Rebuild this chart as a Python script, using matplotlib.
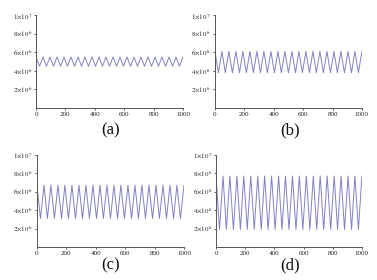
from matplotlib import pyplot as plt

plt.rcParams['mathtext.fontset'] = 'stix'
plt.rcParams['font.family'] = 'Liberation Serif'

# turning points of the oscillation (time steps)
t = [0, 24, 48, 71, 95, 119, 143, 167, 190, 214, 238, 262, 286, 310, 333,
     357, 381, 405, 429, 452, 476, 500, 524, 548, 571, 595, 619, 643, 667,
     690, 714, 738, 762, 786, 810, 833, 857, 881, 905, 929, 952, 976, 1000]

# values at the turning points, in units of 1e6
vals_a = [5.5, 4.5, 5.5, 4.5, 5.5, 4.5, 5.5, 4.5, 5.5, 4.5, 5.5, 4.5, 5.5, 4.5, 5.5,
          4.5, 5.5, 4.5, 5.5, 4.5, 5.5, 4.5, 5.5, 4.5, 5.5, 4.5, 5.5, 4.5, 5.5,
          4.5, 5.5, 4.5, 5.5, 4.5, 5.5, 4.5, 5.5, 4.5, 5.5, 4.5, 5.5, 4.5, 5.5]
vals_b = [6.1, 3.8, 6.1, 3.8, 6.1, 3.8, 6.1, 3.8, 6.1, 3.8, 6.1, 3.8, 6.1, 3.8, 6.1,
          3.8, 6.1, 3.8, 6.1, 3.8, 6.1, 3.8, 6.1, 3.8, 6.1, 3.8, 6.1, 3.8, 6.1,
          3.8, 6.1, 3.8, 6.1, 3.8, 6.1, 3.8, 6.1, 3.8, 6.1, 3.8, 6.1, 3.8, 6.1]
vals_c = [6.7, 3.1, 6.7, 3.1, 6.7, 3.1, 6.7, 3.1, 6.7, 3.1, 6.7, 3.1, 6.7, 3.1, 6.7,
          3.1, 6.7, 3.1, 6.7, 3.1, 6.7, 3.1, 6.7, 3.1, 6.7, 3.1, 6.7, 3.1, 6.7,
          3.1, 6.7, 3.1, 6.7, 3.1, 6.7, 3.1, 6.7, 3.1, 6.7, 3.1, 6.7, 3.1, 6.7]
vals_d = [7.7, 1.9, 7.7, 1.9, 7.7, 1.9, 7.7, 1.9, 7.7, 1.9, 7.7, 1.9, 7.7, 1.9, 7.7,
          1.9, 7.7, 1.9, 7.7, 1.9, 7.7, 1.9, 7.7, 1.9, 7.7, 1.9, 7.7, 1.9, 7.7,
          1.9, 7.7, 1.9, 7.7, 1.9, 7.7, 1.9, 7.7, 1.9, 7.7, 1.9, 7.7, 1.9, 7.7]

panel_labels = ['(a)', '(b)', '(c)', '(d)']
xticks = [0, 200, 400, 600, 800, 1000]
yticks = [2e6, 4e6, 6e6, 8e6, 1e7]
ytick_labels = [r'$2{\times}10^6$', r'$4{\times}10^6$', r'$6{\times}10^6$',
                r'$8{\times}10^6$', r'$1{\times}10^7$']

# axes rectangles in figure fractions
rects = [
    [0.0955, 0.614, 0.390, 0.332],
    [0.570, 0.614, 0.390, 0.332],
    [0.098, 0.118, 0.390, 0.329],
    [0.573, 0.118, 0.387, 0.329],
]
label_pos = [(0.292, 0.535), (0.770, 0.535), (0.292, 0.053), (0.770, 0.053)]

fig = plt.figure(figsize=(3.77, 2.80), dpi=100)

for rect, vals, lab, lp in zip(rects, [vals_a, vals_b, vals_c, vals_d], panel_labels, label_pos):
    ax = fig.add_axes(rect)
    ax.plot(t, [v * 1e6 for v in vals], color='#8380c6', lw=0.7)
    ax.set_xlim(0, 1000)
    ax.set_ylim(0, 1e7)
    ax.set_xticks(xticks)
    ax.set_yticks(yticks)
    ax.set_yticklabels(ytick_labels)
    for s in ['top', 'right']:
        ax.spines[s].set_visible(False)
    for s in ['left', 'bottom']:
        ax.spines[s].set_color('#555555')
        ax.spines[s].set_linewidth(0.7)
    ax.tick_params(labelsize=5, length=1.5, width=0.5, pad=1.5, colors='#222222')
    fig.text(lp[0], lp[1], lab, ha='center', va='center', fontsize=12, color='#111111')

plt.savefig('out.png', dpi=100)
plt.close()
